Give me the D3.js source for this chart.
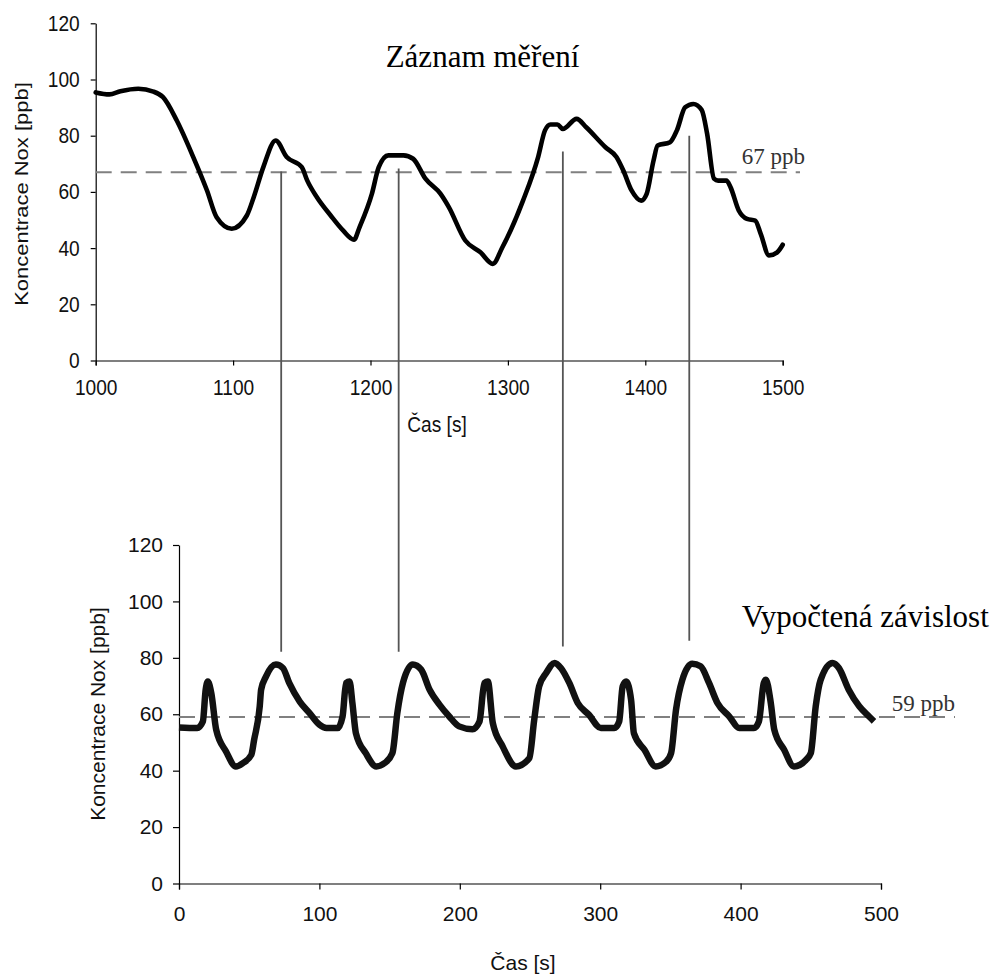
<!DOCTYPE html>
<html>
<head>
<meta charset="utf-8">
<script src="https://cdn.jsdelivr.net/npm/d3@7"></script>
<style>
    body { margin: 0; background: #fff; }
    svg { display: block; }
</style>
</head>
<body>
<div id="chart"></div>
<script>

var measTime = [1000, 1010, 1018, 1031, 1042, 1049, 1059, 1071, 1081, 1088, 1099, 1110, 1115, 1122, 1131, 1139, 1150, 1154, 1161, 1171,
    1180, 1188, 1192, 1201, 1206, 1213, 1224, 1231, 1240, 1251, 1257, 1269, 1280, 1289, 1296, 1311, 1322, 1327, 1331, 1336,
    1340, 1350, 1357, 1371, 1379, 1384, 1390, 1397, 1401, 1406, 1409, 1418, 1423, 1429, 1435, 1441, 1445, 1450, 1453, 1459,
    1462, 1468, 1474, 1480, 1484, 1490, 1496, 1500];
var measNox = [95.4, 94.7, 95.8, 96.7, 95.7, 93.7, 85.4, 72.4, 60.5, 51, 46.9, 51.6, 58.1, 68.8, 78.3, 72.4, 68.8, 64, 58.1, 51.6,
    46.3, 43, 47.4, 59.3, 68.8, 73, 73, 71.8, 64.7, 59.3, 54.6, 42.7, 38.5, 34.4, 40.3, 56.9, 72.4, 81.9, 84, 84,
    82.4, 86, 83, 75.9, 72.4, 67.6, 60.5, 56.9, 59.3, 71.2, 76.5, 77.7, 81.9, 90.1, 91.3, 89.2, 80.7, 64.7, 64, 64,
    61.7, 53.4, 50.4, 49.8, 45.1, 37.4, 38.5, 41.2];

var calcTime = [0, 13, 17, 19, 20.5, 23, 26.5, 33.5, 40.5, 45.5, 51.5, 53.5, 57.5, 58.5, 62, 69, 74, 78.5, 86, 93,
    100, 105, 113, 116.5, 119, 121.5, 123.5, 126, 133, 140.5, 146.5, 152, 155.5, 159.5, 166.5, 172.5, 178.5, 185.5, 192.5, 199.5,
    209, 214, 217.5, 220, 223.5, 230.5, 240, 249.5, 253, 256.5, 261.5, 267.5, 272, 278, 284, 292, 300.5, 310, 313.5, 316,
    318.5, 322, 324, 331.5, 339.5, 347, 350.5, 354, 358.5, 365.5, 371.5, 377.5, 383.5, 392, 399, 409.5, 413, 416.5, 418, 421.5,
    424, 431, 438, 446.5, 450, 453.5, 457, 465.5, 470, 477, 484.5, 491.5, 495];
var calcNox = [55.3, 55.1, 57.4, 68.7, 71.6, 67.5, 54.5, 46.8, 41.5, 42.7, 45.6, 50.9, 62.8, 68.7, 73.4, 77.6, 76.4, 71.1, 64.5, 60.4,
    56.3, 55.1, 55.1, 59.2, 71.1, 71.6, 64, 53.3, 46.2, 41.5, 42.7, 46.2, 60.4, 71.1, 77.6, 75.8, 68.7, 63.4, 59.2, 55.7,
    54.7, 57.4, 71.1, 71.6, 56.9, 48.6, 41.5, 44.4, 58, 69.9, 74.6, 78.2, 76.4, 71.1, 64, 59.8, 55.1, 55.1, 57.4, 69.9,
    71.6, 65.1, 53.3, 47.4, 41.5, 43.2, 46.2, 61.6, 72.2, 77.9, 77, 71.1, 64, 59.2, 55.1, 55.1, 57.4, 71.1, 72.2, 64,
    54.5, 47.4, 41.5, 43.8, 46.2, 62.8, 72.2, 78.2, 76.4, 68.7, 62.8, 59.2, 57.5];

var measTicks = [1000, 1100, 1200, 1300, 1400, 1500];
var calcTicks = [0, 100, 200, 300, 400, 500];
var noxTicks = [0, 20, 40, 60, 80, 100, 120];

var measMean = 67;
var calcMean = 59;

// peak matches: time on the upper chart, where the line starts (upper y) and ends (lower y)
var matchTime = [1135, 1220.5, 1340, 1432];
var matchTop = [67.3, 68.3, 74.4, 80];
var matchBottom = [82.2, 82.2, 84, 86.1];

var titleTop = "Záznam měření";
var titleBottom = "Vypočtená závislost";
var xTitle = "Čas [s]";
var yTitle = "Koncentrace Nox [ppb]";

var width = 999;
var height = 974;

var svg = d3.select("#chart")
    .append("svg")
    .attr("width", width)
    .attr("height", height);

var x_top = d3.scaleLinear().domain([1000, 1500]).range([95.7, 782.7]);
var y_top = d3.scaleLinear().domain([0, 120]).range([360.5, 23.3]);
var x_bot = d3.scaleLinear().domain([0, 500]).range([179, 881]);
var y_bot = d3.scaleLinear().domain([0, 120]).range([883.5, 545]);

var sans = "'Liberation Sans', Arial, sans-serif";
var serif = "'Liberation Serif', 'Times New Roman', serif";

function styleAxis(g, size, sx, isY) {
    g.select(".domain").attr("stroke", "#000").attr("stroke-width", 1.2);
    g.selectAll(".tick line").attr("stroke", "#000").attr("stroke-width", 1.2);
    g.selectAll(".tick text")
        .attr("fill", "#111")
        .style("font-family", sans)
        .style("font-size", size + "px")
        .attr("transform", "scale(" + sx + ",1)");
    if (isY) {
        g.selectAll(".tick text").attr("x", -16 / sx);
    }
}

// upper chart
var gxTop = svg.append("g")
    .attr("transform", "translate(0," + y_top(0) + ")")
    .call(d3.axisBottom(x_top).tickValues(measTicks).tickSize(5).tickPadding(13.5).tickSizeOuter(5).tickFormat(d3.format("d")));
styleAxis(gxTop, 22, 0.87, false);

var gyTop = svg.append("g")
    .attr("transform", "translate(" + x_top(1000) + ",0)")
    .call(d3.axisLeft(y_top).tickValues(noxTicks).tickSize(5).tickSizeOuter(0));
styleAxis(gyTop, 22, 0.87, true);

// lower chart
var gxBot = svg.append("g")
    .attr("transform", "translate(0," + y_bot(0) + ")")
    .call(d3.axisBottom(x_bot).tickValues(calcTicks).tickSize(6).tickPadding(16.5).tickSizeOuter(6));
styleAxis(gxBot, 21, 1, false);

var gyBot = svg.append("g")
    .attr("transform", "translate(" + x_bot(0) + ",0)")
    .call(d3.axisLeft(y_bot).tickValues(noxTicks).tickSize(6).tickSizeOuter(0));
styleAxis(gyBot, 21, 1, true);

// mean lines
svg.append("line")
    .attr("x1", x_top(1000)).attr("x2", 800)
    .attr("y1", y_top(measMean)).attr("y2", y_top(measMean))
    .attr("stroke", "#808080").attr("stroke-width", 2)
    .attr("stroke-dasharray", "16,9");

svg.append("line")
    .attr("x1", x_bot(0)).attr("x2", 955)
    .attr("y1", y_bot(calcMean)).attr("y2", y_bot(calcMean))
    .attr("stroke", "#808080").attr("stroke-width", 2)
    .attr("stroke-dasharray", "16,9");

// connector lines between the peaks
svg.selectAll(".match")
    .data(matchTime)
    .enter()
    .append("line")
    .attr("class", "match")
    .attr("x1", function(d) { return x_top(d); })
    .attr("x2", function(d) { return x_top(d); })
    .attr("y1", function(d, i) { return y_top(matchTop[i]); })
    .attr("y2", function(d, i) { return y_bot(matchBottom[i]); })
    .attr("stroke", "#555")
    .attr("stroke-width", 1.8);

// series
var measData = measTime.map(function(t, i) { return { t: t, v: measNox[i] }; });
var calcData = calcTime.map(function(t, i) { return { t: t, v: calcNox[i] }; });

var measLine = d3.line()
    .x(function(d) { return x_top(d.t); })
    .y(function(d) { return y_top(d.v); })
    .curve(d3.curveMonotoneX);

var calcLine = d3.line()
    .x(function(d) { return x_bot(d.t); })
    .y(function(d) { return y_bot(d.v); })
    .curve(d3.curveMonotoneX);

svg.append("path")
    .datum(measData)
    .attr("fill", "none")
    .attr("stroke", "#000")
    .attr("stroke-width", 4.6)
    .attr("stroke-linejoin", "round")
    .attr("stroke-linecap", "round")
    .attr("d", measLine);

svg.append("path")
    .datum(calcData)
    .attr("fill", "none")
    .attr("stroke", "#111")
    .attr("stroke-width", 6.5)
    .attr("stroke-linejoin", "round")
    .attr("d", calcLine);

// texts
svg.append("text")
    .attr("x", 482.5).attr("y", 66.7)
    .attr("text-anchor", "middle")
    .style("font-family", serif).style("font-size", "31px")
    .attr("fill", "#000")
    .text(titleTop);

svg.append("text")
    .attr("x", 741.7).attr("y", 627.3)
    .style("font-family", serif).style("font-size", "31px")
    .attr("fill", "#000")
    .text(titleBottom);

svg.append("text")
    .attr("x", 741.7).attr("y", 164.3)
    .style("font-family", serif).style("font-size", "23px")
    .attr("fill", "#333")
    .text(measMean + " ppb");

svg.append("text")
    .attr("x", 891.7).attr("y", 710.7)
    .style("font-family", serif).style("font-size", "23px")
    .attr("fill", "#333")
    .text(calcMean + " ppb");

svg.append("text")
    .attr("transform", "translate(437,432) scale(0.87,1)")
    .attr("text-anchor", "middle")
    .style("font-family", sans).style("font-size", "22px")
    .attr("fill", "#111")
    .text(xTitle);

svg.append("text")
    .attr("transform", "translate(523,970)")
    .attr("text-anchor", "middle")
    .style("font-family", sans).style("font-size", "21px")
    .attr("fill", "#111")
    .text(xTitle);

svg.append("text")
    .attr("transform", "translate(28,194) scale(0.87,1) rotate(-90)")
    .attr("text-anchor", "middle")
    .style("font-family", sans).style("font-size", "22px")
    .attr("fill", "#111")
    .text(yTitle);

svg.append("text")
    .attr("transform", "translate(105,714) rotate(-90)")
    .attr("text-anchor", "middle")
    .style("font-family", sans).style("font-size", "21px")
    .attr("fill", "#111")
    .text(yTitle);

</script>
</body>
</html>
